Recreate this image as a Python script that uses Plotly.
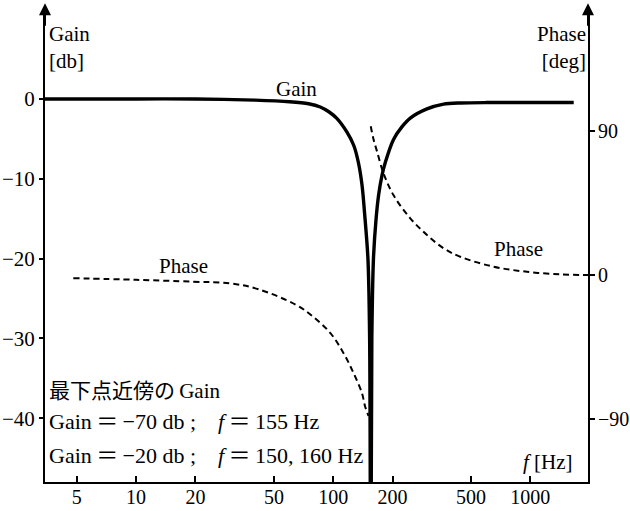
import plotly.graph_objects as go

# Notch filter response: gain (left axis, dB) and phase (right axis, degrees)
gain_freq = [3.45, 10, 20, 40, 60, 75, 86, 95, 104, 117, 127, 134, 140, 145,
             150, 153, 155, 157, 160, 165, 170, 177, 184, 202, 223, 246, 299,
             363, 441, 600, 1000, 1660]
gain_db = [0, 0, 0, -0.15, -0.35, -0.6, -1.0, -1.6, -2.4, -4.1, -5.8, -7.9,
           -10.8, -15, -20, -30, -70, -30, -20, -15, -12, -9.5, -7.9, -5.1,
           -3.5, -2.4, -1.25, -0.65, -0.5, -0.45, -0.45, -0.45]

phase_low_freq = [4.8, 10, 19.5, 30, 42, 65, 79, 97, 113, 127, 140, 145, 151]
phase_low_deg = [-2, -3, -4.2, -5.2, -9, -18.8, -26, -36.5, -49, -61.5, -74, -82, -88]

phase_high_freq = [155, 160, 167, 180, 202, 246, 299, 363, 441, 651, 962, 1420, 1961]
phase_high_deg = [93, 85, 77, 63.5, 50, 35.4, 25, 16.7, 11.4, 5.2, 2, 0.4, 0]

x_tick_vals = [5, 10, 20, 50, 100, 200, 500, 1000]
gain_tick_vals = [0, -10, -20, -30, -40]
phase_tick_vals = [90, 0, -90]
phase_tick_text = ["90", "0", "\u221290"]

SERIF = "Liberation Serif, Noto Sans CJK JP"
W, H = 630, 511
L, R, T, B = 45, 588, 8, 482


def px(x):
    return (x - L) / (R - L)


def py(y):
    return (B - y) / (B - T)


fig = go.Figure()
fig.add_trace(go.Scatter(x=gain_freq, y=gain_db, mode="lines",
                         line=dict(color="black", width=3.4, shape="spline",
                                   smoothing=0.8), yaxis="y"))
fig.add_trace(go.Scatter(x=phase_low_freq, y=phase_low_deg, mode="lines",
                         line=dict(color="black", width=2, dash="6px,4px",
                                   shape="spline"), yaxis="y2"))
fig.add_trace(go.Scatter(x=phase_high_freq, y=phase_high_deg, mode="lines",
                         line=dict(color="black", width=2, dash="6px,4px",
                                   shape="spline"), yaxis="y2"))

axis_font = dict(family=SERIF, size=21, color="black")
x_font = dict(family=SERIF, size=20, color="black")
right_font = dict(family=SERIF, size=20, color="black")

fig.update_layout(
    width=W, height=H,
    margin=dict(l=L, r=W - R, t=T, b=H - B, pad=0, autoexpand=False),
    paper_bgcolor="white", plot_bgcolor="white",
    showlegend=False,
    font=axis_font,
    xaxis=dict(type="log", range=[0.5378, 3.2925], tickvals=x_tick_vals,
               ticktext=[str(v) for v in x_tick_vals],
               ticks="inside", ticklen=6, tickwidth=1.5, tickcolor="black",
               ticklabelstandoff=-4,
               showline=True, linecolor="black", linewidth=2, automargin=False,
               showgrid=False, zeroline=False, tickfont=x_font),
    yaxis=dict(range=[-48.0, 11.4], tickvals=gain_tick_vals,
               ticks="outside", ticklen=4, tickwidth=1.5, tickcolor="black",
               showline=True, linecolor="black", linewidth=2, automargin=False,
               showgrid=False, zeroline=False, tickfont=axis_font),
    yaxis2=dict(range=[-129.4, 166.9], overlaying="y", side="right",
                tickvals=phase_tick_vals, ticktext=phase_tick_text,
                ticks="outside", ticklen=5, tickwidth=1.5, tickcolor="black",
                ticklabelstandoff=-1,
                showline=True, linecolor="black", linewidth=2, automargin=False,
                showgrid=False, zeroline=False, tickfont=right_font),
)

# Arrowheads on top of both vertical axes
for xa in (0, 1):
    fig.add_annotation(x=xa, y=1.01, xref="paper", yref="paper", text="",
                       showarrow=True, arrowhead=2, arrowsize=1.2, arrowwidth=2,
                       arrowcolor="black", ax=0, ay=24)


def label(text, x, y, xanchor="center", size=21, align="left"):
    fig.add_annotation(x=px(x), y=py(y), xref="paper", yref="paper",
                       text=text, showarrow=False, xanchor=xanchor,
                       yanchor="middle", align=align,
                       font=dict(family=SERIF, size=size, color="black"))


label("Gain<br>[db]", 47, 47, xanchor="left")
label("Phase<br>[deg]", 588, 48, xanchor="right", align="right")
label("Gain", 296, 89)
label("Phase", 183, 266)
label("Phase", 518, 249)
label("<i>f</i> [Hz]", 548, 462)
label("最下点近傍の\u2009Gain", 47, 391, xanchor="left")
label("Gain\u2009\uff1d\u2009\u221270 db ;\u2003<i>f</i>\u2009\uff1d\u2009155 Hz",
      47, 421, xanchor="left", size=22)
label("Gain\u2009\uff1d\u2009\u221220 db ;\u2003<i>f</i>\u2009\uff1d\u2009150, 160 Hz",
      47, 455, xanchor="left", size=22)

fig.write_html("out.html")
